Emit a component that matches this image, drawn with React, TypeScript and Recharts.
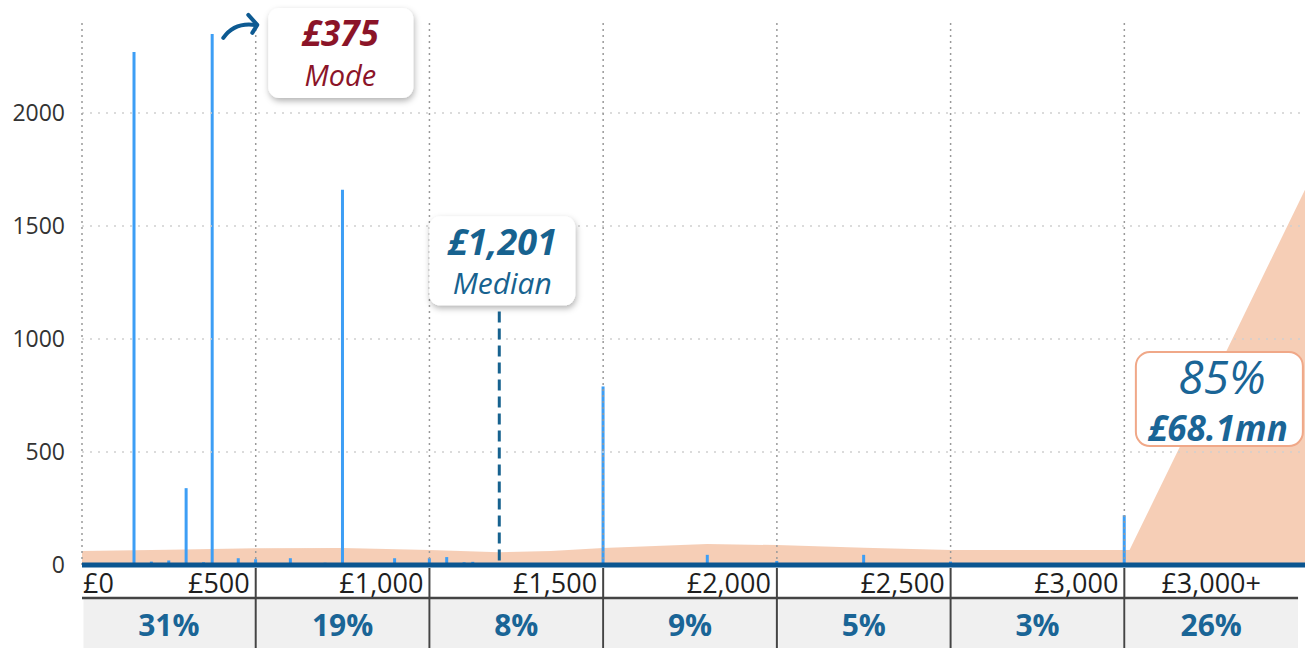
import React from 'react';
import {
  ComposedChart,
  Bar,
  Area,
  XAxis,
  YAxis,
  ReferenceLine,
  ReferenceDot,
} from 'recharts';

// spikes: number of payments at each amount (£)
const spikeAmounts = [150, 200, 250, 300, 350, 375, 400, 450, 475, 500, 550, 600, 650, 700, 725, 750, 800, 850, 900, 950, 1000, 1050, 1100, 1125, 1150, 1250, 1400, 1500, 1650, 1800, 1850, 1900, 2000, 2100, 2250, 2400, 2500, 2800, 3000];
const spikeCounts = [2270, 15, 20, 340, 12, 2350, 8, 30, 8, 25, 6, 30, 5, 10, 6, 1660, 8, 4, 30, 4, 30, 35, 12, 14, 5, 4, 4, 790, 4, 45, 5, 4, 18, 6, 45, 5, 15, 5, 220];

// shaded band behind the spikes
const bandAmounts = [0, 250, 500, 750, 1000, 1200, 1350, 1500, 1800, 2000, 2250, 2500, 3000, 3015, 3520];
const bandValues = [62, 68, 74, 75, 66, 56, 62, 75, 93, 88, 76, 66, 66, 66, 1660];

// table under the axis
const bucketEdges = [0, 500, 1000, 1500, 2000, 2500, 3000, 3500];
const edgeLabels = ['£0', '£500', '£1,000', '£1,500', '£2,000', '£2,500', '£3,000', '£3,000+'];
const bucketShares = ['31%', '19%', '8%', '9%', '5%', '3%', '26%'];

const yTicks = [0, 500, 1000, 1500, 2000];
const gridAmounts = [0, 500, 1000, 1500, 2000, 2500, 3000];

const MODE = { amount: 375, count: 2350, label: '£375', name: 'Mode' };
const MEDIAN = { amount: 1201, top: 1140, label: '£1,201', name: 'Median' };
const SHARE = { amount: 3275, level: 730, pct: '85%', total: '£68.1mn' };

const W = 1305;
const H = 648;
const Y_AXIS_W = 82;
const X_MAX = 3520;
const BUCKET_PX = ((W - Y_AXIS_W) / X_MAX) * 500;
const FONT = '"Open Sans", "Noto Sans", sans-serif';
const BLUE = '#17628f';

const buildRows = () => {
  const map = new Map<number, any>();
  spikeAmounts.forEach((a, i) => map.set(a, { amount: a, count: spikeCounts[i] }));
  bandAmounts.forEach((a, i) => {
    const row = map.get(a) || { amount: a };
    row.band = bandValues[i];
    map.set(a, row);
  });
  return Array.from(map.values()).sort((a, b) => a.amount - b.amount);
};

const rows = buildRows();

const BucketTick = (props: any) => {
  const { x, y, payload } = props;
  const i = bucketEdges.indexOf(payload.value);
  if (i < 0) return null;
  const label = edgeLabels[i];
  if (i === 0) {
    return (
      <text x={x + 1} y={y + 28} fontSize={27} fontFamily={FONT} fill="#1e1e1e" textAnchor="start">
        {label}
      </text>
    );
  }
  const last = i === bucketEdges.length - 1;
  const left = x - BUCKET_PX;
  return (
    <g>
      <rect x={left + 1.5} y={y + 34} width={BUCKET_PX - 1.5} height={50} fill="#f0f0f0" />
      <line x1={left} x2={x} y1={y + 33} y2={y + 33} stroke="#444" strokeWidth={2.5} />
      {!last && <line x1={x} x2={x} y1={y + 3} y2={y + 84} stroke="#444" strokeWidth={2} />}
      <text
        x={last ? x - BUCKET_PX / 2 : x - 6}
        y={y + 28}
        fontSize={27}
        fontFamily={FONT}
        fill="#1e1e1e"
        textAnchor={last ? 'middle' : 'end'}
      >
        {label}
      </text>
      <text
        x={x - BUCKET_PX / 2}
        y={y + 71}
        fontSize={30}
        fontWeight={700}
        fontFamily={FONT}
        fill="#1a6596"
        textAnchor="middle"
      >
        {bucketShares[i - 1]}
      </text>
    </g>
  );
};

const Shadow = ({ id }: { id: string }) => (
  <defs>
    <filter id={id} x="-20%" y="-20%" width="140%" height="150%">
      <feDropShadow dx="1" dy="3" stdDeviation="3" floodColor="#000" floodOpacity="0.3" />
    </filter>
  </defs>
);

const ModeCallout = (p: any) => {
  const { cx, cy } = p;
  const left = cx + 56;
  const top = cy - 26;
  return (
    <g>
      <Shadow id="modeShadow" />
      <path
        d={`M ${cx + 11} ${cy + 4} Q ${cx + 22} ${cy - 12} ${cx + 43} ${cy - 9}`}
        fill="none"
        stroke="#0d5a92"
        strokeWidth={4}
        strokeLinecap="round"
      />
      <path
        d={`M ${cx + 36} ${cy - 19} L ${cx + 45} ${cy - 9} L ${cx + 40} ${cy - 1}`}
        fill="none"
        stroke="#0d5a92"
        strokeWidth={4}
        strokeLinecap="round"
        strokeLinejoin="round"
      />
      <rect x={left} y={top} width={145} height={90} rx={11} fill="#fff" filter="url(#modeShadow)" />
      <text x={left + 72} y={top + 38} textAnchor="middle" fontFamily={FONT} fontSize={35} fontWeight={700} fontStyle="italic" fill="#8b1428">
        {MODE.label}
      </text>
      <text x={left + 72} y={top + 78} textAnchor="middle" fontFamily={FONT} fontSize={29} fontStyle="italic" fill="#8b1428">
        {MODE.name}
      </text>
    </g>
  );
};

const MedianCallout = (p: any) => {
  const { cx, cy } = p;
  const left = cx - 70;
  const top = cy - 91;
  return (
    <g>
      <Shadow id="medianShadow" />
      <rect x={left} y={top} width={146} height={89} rx={11} fill="#fff" filter="url(#medianShadow)" />
      <text x={left + 73} y={top + 39} textAnchor="middle" fontFamily={FONT} fontSize={36} fontWeight={700} fontStyle="italic" fill={BLUE}>
        {MEDIAN.label}
      </text>
      <text x={left + 73} y={top + 78} textAnchor="middle" fontFamily={FONT} fontSize={30} fontStyle="italic" fill={BLUE}>
        {MEDIAN.name}
      </text>
    </g>
  );
};

const ShareCallout = (p: any) => {
  const { cx, cy } = p;
  const left = cx - 84;
  const top = cy - 48;
  return (
    <g>
      <rect x={left} y={top} width={167} height={94} rx={14} fill="#fff" stroke="#f0a888" strokeWidth={2} />
      <text x={left + 86} y={top + 42} textAnchor="middle" fontFamily={FONT} fontSize={46} fontStyle="italic" fill="#1a6596">
        {SHARE.pct}
      </text>
      <text x={left + 82} y={top + 89} textAnchor="middle" fontFamily={FONT} fontSize={35} fontWeight={700} fontStyle="italic" fill="#1a6596">
        {SHARE.total}
      </text>
    </g>
  );
};

export default function App() {
  return (
    <div style={{ position: 'absolute', left: 0, top: 0, width: W, height: H, background: '#fff' }}>
      <ComposedChart width={W} height={H} data={rows} margin={{ top: 0, right: 0, bottom: 0, left: 0 }}>
        {yTicks.slice(1).map((v) => (
          <ReferenceLine key={`h${v}`} y={v} stroke="#cfcfcf" strokeWidth={1.5} strokeDasharray="2 6" />
        ))}
        {gridAmounts.map((a) => (
          <ReferenceLine
            key={`v${a}`}
            segment={[{ x: a, y: 0 }, { x: a, y: 2400 }]}
            stroke="#9a9a9a"
            strokeWidth={1.5}
            strokeDasharray="2 4"
          />
        ))}
        <XAxis
          dataKey="amount"
          type="number"
          domain={[0, X_MAX]}
          allowDataOverflow
          ticks={bucketEdges}
          interval={0}
          height={83}
          tickSize={0}
          tickMargin={0}
          tickLine={false}
          axisLine={{ stroke: '#0b5590', strokeWidth: 5 }}
          tick={<BucketTick />}
        />
        <YAxis
          type="number"
          domain={[0, 2500]}
          ticks={yTicks}
          width={Y_AXIS_W}
          tickSize={0}
          tickMargin={17}
          axisLine={false}
          tickLine={false}
          tick={{ fontSize: 23, fontFamily: FONT, fill: '#333' }}
        />
        <Bar dataKey="count" barSize={3} fill="#3d9ef5" isAnimationActive={false} />
        <Area
          dataKey="band"
          type="linear"
          connectNulls
          stroke="none"
          fill="#ee9e6e"
          fillOpacity={0.5}
          isAnimationActive={false}
        />
        <ReferenceLine
          segment={[{ x: MEDIAN.amount, y: 20 }, { x: MEDIAN.amount, y: MEDIAN.top }]}
          stroke={BLUE}
          strokeWidth={3}
          strokeDasharray="11 6"
        />
        <ReferenceDot x={MODE.amount} y={MODE.count} r={0} shape={ModeCallout} />
        <ReferenceDot x={MEDIAN.amount} y={MEDIAN.top} r={0} shape={MedianCallout} />
        <ReferenceDot x={SHARE.amount} y={SHARE.level} r={0} shape={ShareCallout} />
      </ComposedChart>
    </div>
  );
}
